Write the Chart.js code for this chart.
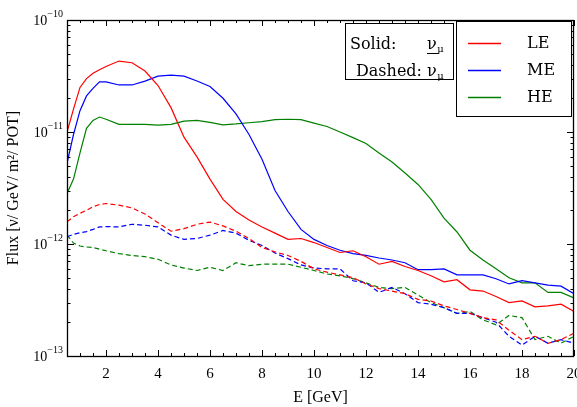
<!DOCTYPE html>
<html>
<head>
<meta charset="utf-8">
<script src="https://cdn.jsdelivr.net/npm/chart.js@4.4.1/dist/chart.umd.min.js"></script>
<style>
  html, body { margin: 0; padding: 0; background: #fff; overflow: hidden; }
  #wrap { width: 592px; height: 407px; position: relative; }
</style>
</head>
<body>
<div id="wrap"><canvas id="fluxChart"></canvas></div>
<script>
// Energia (GeV) e fluxos, em unidades de 1e-12 ν/GeV/m²/POT
const UNIDADE = 1e-12;
const energia = [0.5, 0.75, 1, 1.25, 1.5, 1.75, 2, 2.5, 3, 3.5, 4, 4.5, 5, 5.5, 6, 6.5, 7, 7.5, 8, 8.5,
  9, 9.5, 10, 10.5, 11, 11.5, 12, 12.5, 13, 13.5, 14, 14.5, 15, 15.5, 16, 16.5, 17, 17.5, 18, 18.5,
  19, 19.5, 20];

// linhas cheias (nu_mu)
const leSolido = [10, 16, 25, 30, 33.5, 36, 38.5, 43, 41.5, 35, 26, 16.5, 9, 6, 3.8, 2.5, 1.95, 1.64, 1.42, 1.25,
  1.1, 1.12, 1.03, 0.93, 0.84, 0.87, 0.77, 0.66, 0.70, 0.63, 0.58, 0.52, 0.46, 0.48, 0.39, 0.38,
  0.34, 0.30, 0.31, 0.275, 0.28, 0.29, 0.25];
const meSolido = [5.25, 9.5, 15.5, 21, 24.5, 28, 28, 26.3, 26.3, 28.5, 31.5, 32.2, 31.5, 28.5, 25.5, 20, 14.5, 9.5, 5.7, 3.0,
  1.95, 1.35, 1.1, 0.97, 0.88, 0.82, 0.79, 0.75, 0.72, 0.68, 0.59, 0.59, 0.60, 0.53, 0.53, 0.53,
  0.49, 0.44, 0.47, 0.45, 0.43, 0.42, 0.36];
const heSolido = [2.83, 3.8, 6.5, 10.8, 12.7, 13.6, 13, 11.7, 11.7, 11.7, 11.5, 11.7, 12.5, 12.7, 12.2, 11.6, 11.8, 12.1, 12.4, 12.9,
  13, 12.9, 12, 11.2, 10, 8.9, 7.9, 6.5, 5.4, 4.3, 3.4, 2.5, 1.7, 1.28, 0.88, 0.72,
  0.6, 0.5, 0.45, 0.45, 0.37, 0.37, 0.33];

// linhas tracejadas (anti-nu_mu)
const leTracejado = [1.58, 1.75, 1.88, 2.0, 2.15, 2.25, 2.3, 2.22, 2.1, 1.85, 1.55, 1.3, 1.37, 1.5, 1.57, 1.45, 1.3, 1.12, 0.93, 0.85,
  0.79, 0.70, 0.60, 0.56, 0.53, 0.50, 0.44, 0.40, 0.38, 0.36, 0.32, 0.31, 0.28, 0.26, 0.24, 0.22,
  0.21, 0.17, 0.14, 0.15, 0.13, 0.14, 0.16];
const meTracejado = [1.16, 1.22, 1.26, 1.29, 1.35, 1.42, 1.43, 1.42, 1.5, 1.47, 1.42, 1.2, 1.1, 1.12, 1.2, 1.32, 1.25, 1.08, 0.97, 0.83,
  0.74, 0.65, 0.61, 0.60, 0.60, 0.47, 0.45, 0.37, 0.41, 0.36, 0.30, 0.29, 0.27, 0.24, 0.24, 0.22,
  0.20, 0.15, 0.125, 0.15, 0.13, 0.14, 0.13];
const heTracejado = [1.2, 1.02, 0.96, 0.94, 0.93, 0.9, 0.87, 0.82, 0.79, 0.77, 0.73, 0.65, 0.61, 0.58, 0.62, 0.58, 0.68, 0.64, 0.66, 0.66,
  0.66, 0.62, 0.58, 0.54, 0.52, 0.49, 0.45, 0.41, 0.40, 0.41, 0.35, 0.30, 0.27, 0.24, 0.25, 0.21,
  0.19, 0.23, 0.22, 0.14, 0.15, 0.13, 0.15];

const rotulosX = [2, 4, 6, 8, 10, 12, 14, 16, 18, 20];
const decadasY = [-13, -12, -11, -10];
const feixes = ['LE', 'ME', 'HE'];

const cores = { LE: '#ff0000', ME: '#0000ff', HE: '#008000' };
const fonte = '"Liberation Serif", "Times New Roman", serif';
const fonteLegenda = '"DejaVu Serif", serif';

function serie(valores) {
  return energia.map((e, i) => ({ x: e, y: valores[i] * UNIDADE }));
}

function linha(rotulo, valores, cor, tracejado) {
  return {
    label: rotulo,
    data: serie(valores),
    borderColor: cor,
    borderWidth: 1.2,
    borderDash: tracejado ? [5, 3] : [],
    pointRadius: 0,
    tension: 0,
    fill: false
  };
}

// Moldura, ticks para dentro e rótulos 10^n
const molduraPlugin = {
  id: 'moldura',
  afterDraw(chart) {
    const { ctx, chartArea: a, scales: { x, y } } = chart;
    ctx.save();
    ctx.strokeStyle = '#000';
    ctx.lineWidth = 1;

    // ticks do eixo x (menores a cada 0.5)
    for (let v = 0.5; v <= 20.001; v += 0.5) {
      const px = Math.round(x.getPixelForValue(v)) + 0.5;
      const len = rotulosX.includes(v) ? 6 : 3;
      ctx.beginPath();
      ctx.moveTo(px, a.bottom); ctx.lineTo(px, a.bottom - len);
      ctx.moveTo(px, a.top); ctx.lineTo(px, a.top + len);
      ctx.stroke();
    }

    // ticks do eixo y (log)
    for (let n = -13; n <= -10; n++) {
      for (let k = 1; k <= 9; k++) {
        if (n === -10 && k > 1) break;
        const py = Math.round(y.getPixelForValue(k * Math.pow(10, n))) + 0.5;
        const len = k === 1 ? 7 : 3.5;
        ctx.beginPath();
        ctx.moveTo(a.left, py); ctx.lineTo(a.left + len, py);
        ctx.moveTo(a.right, py); ctx.lineTo(a.right - len, py);
        ctx.stroke();
      }
    }

    ctx.lineWidth = 1.3;
    ctx.strokeRect(a.left + 0.5, a.top + 0.5, a.right - a.left - 1, a.bottom - a.top);

    // rótulos do eixo y
    ctx.fillStyle = '#000';
    ctx.textBaseline = 'middle';
    for (const n of decadasY) {
      const py = y.getPixelForValue(Math.pow(10, n));
      ctx.font = '14px ' + fonte;
      const base = '10';
      const wBase = ctx.measureText(base).width;
      ctx.font = '10px ' + fonte;
      const exp = '\u2212' + Math.abs(n);
      const wExp = ctx.measureText(exp).width;
      const xExp = a.left - 4 - wExp;
      ctx.fillText(exp, xExp, py - 6);
      ctx.font = '14px ' + fonte;
      ctx.fillText(base, xExp - wBase, py + 1);
    }
    ctx.restore();
  }
};

// Legendas em duas caixas, como no original
const legendaPlugin = {
  id: 'legendaCaixas',
  afterDraw(chart) {
    const { ctx, chartArea: a } = chart;
    ctx.save();
    ctx.strokeStyle = '#000';
    ctx.lineWidth = 1;
    ctx.fillStyle = '#fff';

    // caixa 1: Solid / Dashed
    const b1 = { x: a.right - 229, y: a.top + 3, w: 108, h: 56 };
    ctx.fillRect(b1.x, b1.y, b1.w, b1.h);
    ctx.strokeRect(b1.x + 0.5, b1.y + 0.5, b1.w, b1.h);

    // caixa 2: LE / ME / HE
    const b2 = { x: a.right - 118, y: a.top + 1, w: 115, h: 95 };
    ctx.fillRect(b2.x, b2.y, b2.w, b2.h);
    ctx.strokeRect(b2.x + 0.5, b2.y + 0.5, b2.w, b2.h);

    ctx.fillStyle = '#000';
    ctx.textBaseline = 'alphabetic';

    // linha 1: "Solid:  ν_μ" (ν sublinhado, como no original)
    ctx.font = '16px ' + fonteLegenda;
    ctx.fillText('Solid:', b1.x + 5, b1.y + 26);
    const xNu1 = b1.x + 82;
    ctx.fillText('\u03bd', xNu1, b1.y + 26);
    const wNu = ctx.measureText('\u03bd').width;
    ctx.font = '10px ' + fonteLegenda;
    ctx.fillText('\u03bc', xNu1 + wNu + 0.5, b1.y + 29);
    ctx.beginPath();
    ctx.moveTo(xNu1, b1.y + 30.5); ctx.lineTo(xNu1 + wNu + 2, b1.y + 30.5);
    ctx.stroke();

    // linha 2: "Dashed: ν_μ"
    ctx.font = '16px ' + fonteLegenda;
    const txt2 = 'Dashed: \u03bd';
    ctx.fillText(txt2, b1.x + 11, b1.y + 53);
    const wTxt2 = ctx.measureText(txt2).width;
    ctx.font = '10px ' + fonteLegenda;
    ctx.fillText('\u03bc', b1.x + 11 + wTxt2 + 0.5, b1.y + 55.5);

    feixes.forEach((f, i) => {
      const cy = b2.y + 22 + i * 27;
      ctx.strokeStyle = cores[f];
      ctx.lineWidth = 1.3;
      ctx.beginPath();
      ctx.moveTo(b2.x + 12, cy + 0.5); ctx.lineTo(b2.x + 45, cy + 0.5);
      ctx.stroke();
      ctx.fillStyle = '#000';
      ctx.font = '16px ' + fonteLegenda;
      ctx.textBaseline = 'middle';
      ctx.fillText(f, b2.x + 71, cy + 1);
    });
    ctx.restore();
  }
};

const ctxFlux = document.getElementById('fluxChart');
new Chart(ctxFlux, {
  type: 'line',
  data: {
    datasets: [
      linha('LE', leSolido, cores.LE, false),
      linha('ME', meSolido, cores.ME, false),
      linha('HE', heSolido, cores.HE, false),
      linha('LE anti', leTracejado, cores.LE, true),
      linha('ME anti', meTracejado, cores.ME, true),
      linha('HE anti', heTracejado, cores.HE, true)
    ]
  },
  options: {
    responsive: true,
    maintainAspectRatio: false,
    animation: false,
    layout: { padding: { top: 20, right: 18, left: 0, bottom: 0 } },
    plugins: {
      legend: { display: false },
      tooltip: { enabled: false }
    },
    scales: {
      x: {
        type: 'linear',
        min: 0.5,
        max: 20,
        afterBuildTicks: (s) => { s.ticks = rotulosX.map(v => ({ value: v })); },
        afterFit: (s) => { s.height = 51; },
        grid: { display: false, drawTicks: false },
        border: { display: false },
        ticks: {
          color: '#000',
          padding: 9,
          maxRotation: 0,
          font: { family: fonte, size: 15 }
        },
        title: {
          display: true,
          text: 'E [GeV]',
          color: '#000',
          padding: { top: 2, bottom: 0 },
          font: { family: fonte, size: 16 }
        }
      },
      y: {
        type: 'logarithmic',
        min: 1e-13,
        max: 1e-10,
        afterFit: (s) => { s.width = 67; },
        grid: { display: false, drawTicks: false },
        border: { display: false },
        ticks: { display: false },
        title: {
          display: true,
          text: 'Flux [\u03bd/ GeV/ m\u00b2/ POT]',
          color: '#000',
          padding: { top: 4, bottom: 0 },
          font: { family: fonte, size: 16 }
        }
      }
    }
  },
  plugins: [molduraPlugin, legendaPlugin]
});
</script>
</body>
</html>
